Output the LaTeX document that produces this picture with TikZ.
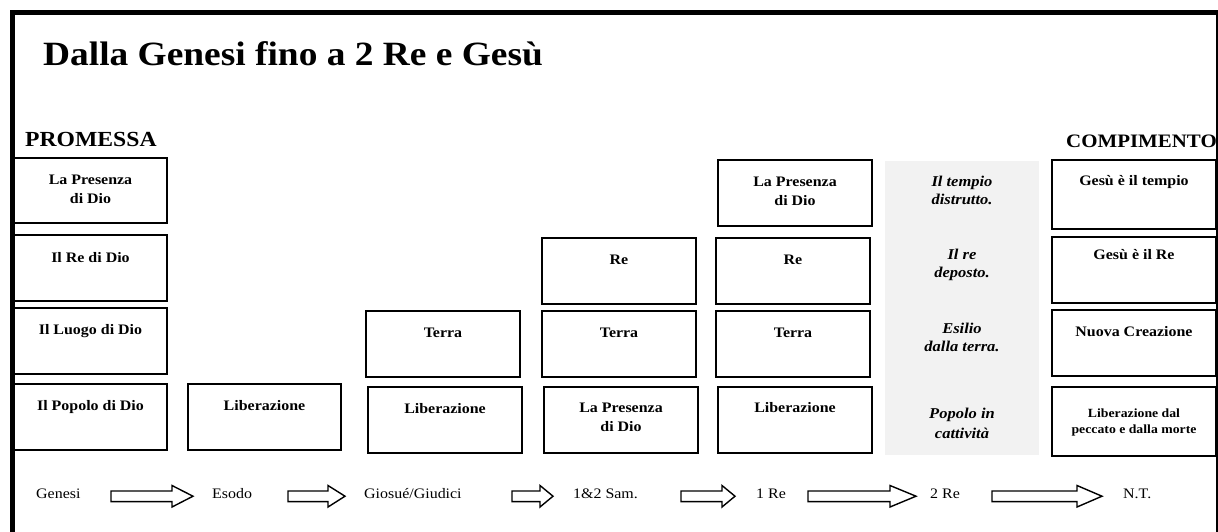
\documentclass[tikz,border=0pt]{standalone}
\usepackage{fontspec}
\setmainfont{Liberation Serif}[FakeStretch=1.1]
\definecolor{grayfill}{HTML}{F2F2F2}
\tikzset{
  box/.style={draw, line width=1.8pt, inner sep=0pt, fill=white},
  lbl/.style={inner sep=0pt, align=center, anchor=base, font=\bfseries\fontsize{14.5}{19}\selectfont},
  ilbl/.style={inner sep=0pt, align=center, anchor=base, font=\bfseries\itshape\fontsize{15}{18}\selectfont},
  slbl/.style={inner sep=0pt, align=center, anchor=base, font=\bfseries\fontsize{12.5}{16}\selectfont},
  book/.style={inner sep=0pt, anchor=base west, font=\fontsize{14.5}{17}\selectfont},
  blk/.style={draw, line width=1.4pt, fill=white, line join=miter},
  frame/.style={line width=4.5pt},
}
\newcommand\bx[5]{%
  \node[box, minimum width={#4-#2}, minimum height={#5-#3}] (#1) at ({(#2+#4)/2},{(#3+#5)/2}) {};}
\newcommand\blockarr[3]{%
  \draw[blk] (#1,491) -- (#3,491) -- (#3,485.5) -- (#2,496.2) -- (#3,507) -- (#3,501.6) -- (#1,501.6) -- cycle;}
\begin{document}
\begin{tikzpicture}[x=1pt,y=-1pt]
\useasboundingbox (0,0) rectangle (1218,531);
\fill[white] (0,0) rectangle (1218,531);

% title and headings
\node[inner sep=0pt, anchor=base west, font=\bfseries\fontsize{34}{40}\selectfont] (title) at (43,65) {Dalla Genesi fino a 2 Re e Gesù};
\node[inner sep=0pt, anchor=base west, font=\bfseries\fontsize{21.5}{25}\selectfont] (prom) at (25,146) {PROMESSA};
\node[inner sep=0pt, anchor=base west, font=\bfseries\fontsize{19}{24}\selectfont] (comp) at (1066,147) {COMPIMENTO};

% gray column
\node[fill=grayfill, inner sep=0pt, minimum width=154, minimum height=294] (gray) at (962,308) {};

% column 1
\bx{a1}{14}{158}{167}{223}
\bx{a2}{14}{235}{167}{301}
\bx{a3}{14}{308}{167}{374}
\bx{a4}{14}{384}{167}{450}
% column 2
\bx{b4}{188}{384}{341}{450}
% column 3
\bx{c3}{366}{311}{520}{377}
\bx{c4}{368}{387}{522}{453}
% column 4
\bx{d2}{542}{238}{696}{304}
\bx{d3}{542}{311}{696}{377}
\bx{d4}{544}{387}{698}{453}
% column 5
\bx{e1}{718}{160}{872}{226}
\bx{e2}{716}{238}{870}{304}
\bx{e3}{716}{311}{870}{377}
\bx{e4}{718}{387}{872}{453}
% column 7
\bx{g1}{1052}{160}{1216}{229}
\bx{g2}{1052}{237}{1216}{303}
\bx{g3}{1052}{310}{1216}{376}
\bx{g4}{1052}{387}{1216}{456}

% labels (base anchor = baseline of last line)
\node[lbl] (a1t) at (90.5,203) {La Presenza\\di Dio};
\node[lbl] (a2t) at (90.5,262) {Il Re di Dio};
\node[lbl] (a3t) at (90.5,334) {Il Luogo di Dio};
\node[lbl] (a4t) at (90.5,410) {Il Popolo di Dio};
\node[lbl] (b4t) at (264.5,410) {Liberazione};
\node[lbl] (c3t) at (443,337) {Terra};
\node[lbl] (c4t) at (445,413) {Liberazione};
\node[lbl] (d2t) at (619,264) {Re};
\node[lbl] (d3t) at (619,337) {Terra};
\node[lbl] (d4t) at (621,431) {La Presenza\\di Dio};
\node[lbl] (e1t) at (795,205) {La Presenza\\di Dio};
\node[lbl] (e2t) at (793,264) {Re};
\node[lbl] (e3t) at (793,337) {Terra};
\node[lbl] (e4t) at (795,412) {Liberazione};
\node[ilbl] (f1t) at (962,204) {Il tempio\\distrutto.};
\node[ilbl] (f2t) at (962,277) {Il re\\deposto.};
\node[ilbl] (f3t) at (962,351) {Esilio\\dalla terra.};
\node[ilbl, font=\bfseries\itshape\fontsize{15}{20}\selectfont] (f4t) at (962,438) {Popolo in\\cattività};
\node[lbl] (g1t) at (1134,185) {Gesù è il tempio};
\node[lbl] (g2t) at (1134,259) {Gesù è il Re};
\node[lbl] (g3t) at (1134,336) {Nuova Creazione};
\node[slbl] (g4t) at (1134,433) {Liberazione dal\\peccato e dalla morte};

% book row
\node[book] (gen) at (36,498) {Genesi};
\node[book] (eso) at (212,498) {Esodo};
\node[book] (gio) at (364,498) {Giosué/Giudici};
\node[book] (sam) at (573,498) {1\&2 Sam.};
\node[book] (re1) at (756,498) {1 Re};
\node[book] (re2) at (930,498) {2 Re};
\node[book] (nt) at (1123,498) {N.T.};

\blockarr{111}{193}{172}
\blockarr{288}{345}{328}
\blockarr{512}{553}{540}
\blockarr{681}{735}{722}
\blockarr{808}{916}{890}
\blockarr{992}{1102}{1077}

% frame
\draw[frame] (12.5,540) -- (12.5,12.5) -- (1225,12.5);
\draw[line width=2pt] (1216.5,12.5) -- (1216.5,540);
\end{tikzpicture}
\end{document}
